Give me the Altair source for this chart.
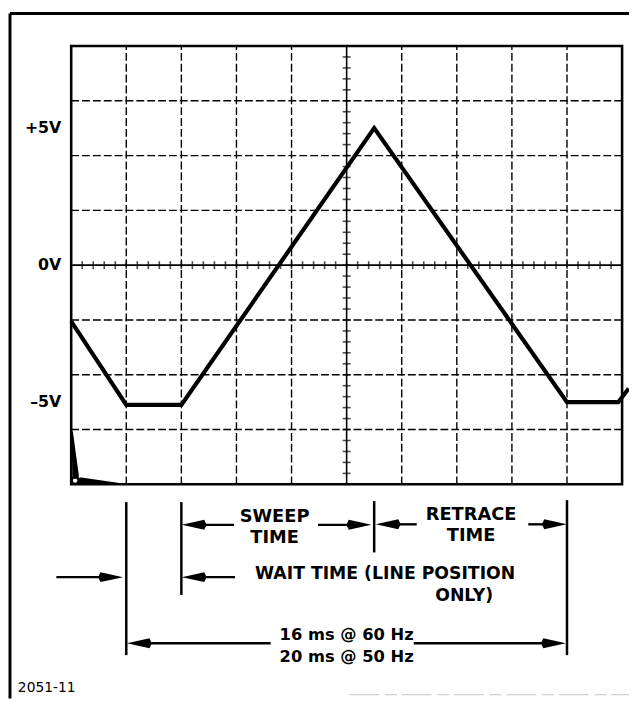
import altair as alt
import pandas as pd

# ---------------- data ----------------
# waveform: x in graticule divisions, y in volts (2 V/div)
wave_x = [0.0, 1.0, 2.0, 5.5, 9.0, 9.93, 10.12]
wave_v = [-2.05, -5.1, -5.1, 5.0, -5.0, -5.0, -4.5]

# graticule lines
grid_x = [1, 2, 3, 4, 6, 7, 8, 9]
grid_v = [-6, -4, -2, 2, 4, 6]
minor_x = [round(i * 0.2, 1) for i in range(51)]
minor_v = [round(-8 + i * 0.4, 1) for i in range(41)]

# voltage labels
volt_text = ["+5V", "0V", "\u20135V"]
volt_val = [5, 0, -5]

# timing markers (at waveform corners, in divisions)
marker_x = [1.0, 2.0, 5.5, 9.0]

# annotation texts
note_text = ["SWEEP", "TIME", "RETRACE", "TIME", "WAIT TIME (LINE POSITION", "ONLY)",
             "16 ms @ 60 Hz", "20 ms @ 50 Hz"]

# ---------------- layout (page pixels) ----------------
PLOT_L, PLOT_T = 72, 42
W, H = 558, 444
DIV_X = W / 10.0
PX_V = H / 16.0


def dx(px):
    return (px - PLOT_L) / DIV_X


def dv(py):
    return 8 - (py - PLOT_T) / PX_V


xs = alt.Scale(domain=[0, 10], nice=False, zero=False)
ys = alt.Scale(domain=[-8, 8], nice=False, zero=False)


def X(f="x"):
    return alt.X(f"{f}:Q", scale=xs, axis=None)


def Y(f="y"):
    return alt.Y(f"{f}:Q", scale=ys, axis=None)


layers = []

# outer frame (top and left)
frame = pd.DataFrame({"x": [dx(10), dx(10)], "x2": [dx(637), dx(10)],
                      "y": [dv(9), dv(9)], "y2": [dv(9), dv(703)]})
layers.append(alt.Chart(frame).mark_rule(color="black", strokeWidth=3).encode(
    x=X(), x2="x2:Q", y=Y(), y2="y2:Q"))

# faint scan line at bottom right
faint = pd.DataFrame({"x": [dx(354)], "x2": [dx(637)], "y": [dv(699)]})
layers.append(alt.Chart(faint).mark_rule(color="#d0d0d0", strokeWidth=1.5, strokeDash=[30, 6, 12, 5]).encode(
    x=X(), x2="x2:Q", y=Y()))

# dashed grid
gx = pd.DataFrame({"x": grid_x, "y": [-8] * len(grid_x), "y2": [8] * len(grid_x)})
layers.append(alt.Chart(gx).mark_rule(color="black", strokeWidth=1.4, strokeDash=[8, 3]).encode(
    x=X(), y=Y(), y2="y2:Q"))
gy = pd.DataFrame({"y": grid_v, "x": [0] * len(grid_v), "x2": [10] * len(grid_v)})
layers.append(alt.Chart(gy).mark_rule(color="black", strokeWidth=1.4, strokeDash=[8, 3]).encode(
    y=Y(), x=X(), x2="x2:Q"))

# solid centre lines
cl = pd.DataFrame({"x": [0, 5], "x2": [10, 5], "y": [0, -8], "y2": [0, 8]})
layers.append(alt.Chart(cl).mark_rule(color="black", strokeWidth=1.6).encode(
    x=X(), x2="x2:Q", y=Y(), y2="y2:Q"))

# minor ticks on centre lines
mx = pd.DataFrame({"x": minor_x, "y": [0] * len(minor_x)})
layers.append(alt.Chart(mx).mark_tick(orient="vertical", size=8, thickness=1.6, color="black").encode(
    x=X(), y=Y()))
mv = pd.DataFrame({"y": minor_v, "x": [5] * len(minor_v)})
layers.append(alt.Chart(mv).mark_tick(orient="horizontal", size=8, thickness=1.6, color="black").encode(
    x=X(), y=Y()))

# graticule border
border = pd.DataFrame({"x": [0], "x2": [10], "y": [-8], "y2": [8]})
layers.append(alt.Chart(border).mark_rect(fillOpacity=0, stroke="black", strokeWidth=2.6).encode(
    x=X(), x2="x2:Q", y=Y(), y2="y2:Q"))

# spot artefacts in lower-left corner
trail = pd.DataFrame({
    "x": [dx(73), dx(76.5), dx(82), dx(126)],
    "y": [dv(433), dv(477), dv(482), dv(486)],
    "w": [1.5, 6.5, 6, 1],
    "seg": ["a", "a", "b", "b"],
    "i": [0, 1, 2, 3],
})
layers.append(alt.Chart(trail).mark_trail(color="black").encode(
    x=X(), y=Y(), size=alt.Size("w:Q", scale=None, legend=None),
    detail="seg:N", order="i:Q"))
blob = pd.DataFrame({"x": [dx(76)], "y": [dv(482)]})
layers.append(alt.Chart(blob).mark_point(shape="circle", filled=False, color="black", size=50,
                                         strokeWidth=2.5, opacity=1).encode(x=X(), y=Y()))

# waveform
wave = pd.DataFrame({"x": wave_x, "y": wave_v, "i": list(range(len(wave_x)))})
layers.append(alt.Chart(wave).mark_line(color="black", strokeWidth=4.2, strokeJoin="miter",
                                         strokeCap="butt").encode(x=X(), y=Y(), order="i:Q"))

# voltage labels
vl = pd.DataFrame({"x": [dx(62)] * 3, "y": volt_val, "t": volt_text})
layers.append(alt.Chart(vl).mark_text(align="right", baseline="middle", font="DejaVu Sans",
                                       fontWeight="bold", fontSize=16, color="black").encode(
    x=X(), y=Y(), text="t:N"))

# timing markers (vertical bars)
mk = pd.DataFrame({"x": marker_x, "y": [dv(504), dv(504), dv(503), dv(502)],
                   "y2": [dv(659), dv(598), dv(555), dv(659)]})
layers.append(alt.Chart(mk).mark_rule(color="black", strokeWidth=2.5).encode(
    x=X(), y=Y(), y2="y2:Q"))

# arrow shafts
shaft = pd.DataFrame({
    "x": [dx(237), dx(322), dx(422), dx(535), dx(238), dx(57), dx(274), dx(419)],
    "x2": [dx(200), dx(360), dx(395), dx(560), dx(200), dx(105), dx(145), dx(560)],
    "y": [dv(527), dv(527), dv(526.5), dv(526.5), dv(580), dv(580), dv(647), dv(647)],
})
layers.append(alt.Chart(shaft).mark_rule(color="black", strokeWidth=2.4).encode(
    x=X(), x2="x2:Q", y=Y()))

# arrow heads (tip at the anchor point)
heads = pd.DataFrame({
    "x": [dx(184), dx(376), dx(380.5), dx(574), dx(184), dx(124.5), dx(128.5), dx(573)],
    "y": [dv(527), dv(527), dv(526.5), dv(526.5), dv(580), dv(580), dv(647), dv(647)],
    "d": ["L", "R", "L", "R", "L", "R", "L", "R"],
})
layers.append(alt.Chart(heads).mark_point(filled=True, color="black", size=576, opacity=1,
                                           strokeWidth=0).encode(
    x=X(), y=Y(),
    shape=alt.Shape("d:N", scale=alt.Scale(domain=["L", "R"],
                                            range=["M0,0L1.9,-0.42L2.1,0L1.9,0.42Z",
                                                   "M0,0L-1.9,-0.42L-2.1,0L-1.9,0.42Z"]),
                    legend=None)))

# annotation texts
nt = pd.DataFrame({
    "x": [dx(278), dx(278), dx(477), dx(477), dx(390), dx(470), dx(351), dx(351)],
    "y": [dv(519), dv(540), dv(517), dv(538), dv(577), dv(599), dv(639), dv(661)],
    "t": note_text,
    "s": [18, 18, 18, 18, 17.5, 17.5, 16.5, 16.5],
})
layers.append(alt.Chart(nt).mark_text(align="center", baseline="middle", font="DejaVu Sans",
                                       fontWeight="bold", color="black").encode(
    x=X(), y=Y(), text="t:N", size=alt.Size("s:Q", scale=None, legend=None)))

# figure number
fig = pd.DataFrame({"x": [dx(18)], "y": [dv(692)], "t": ["2051-11"]})
layers.append(alt.Chart(fig).mark_text(align="left", baseline="middle", font="DejaVu Sans",
                                        fontSize=14, color="black").encode(
    x=X(), y=Y(), text="t:N"))

chart = alt.layer(*layers).properties(
    width=W, height=H,
    padding={"left": 64, "top": 34, "right": 7, "bottom": 217},
    autosize=alt.AutoSizeParams(type="none"),
    background="white",
).configure_view(stroke=None)

chart.save("out.html", embed_options={"renderer": "svg", "actions": False})
